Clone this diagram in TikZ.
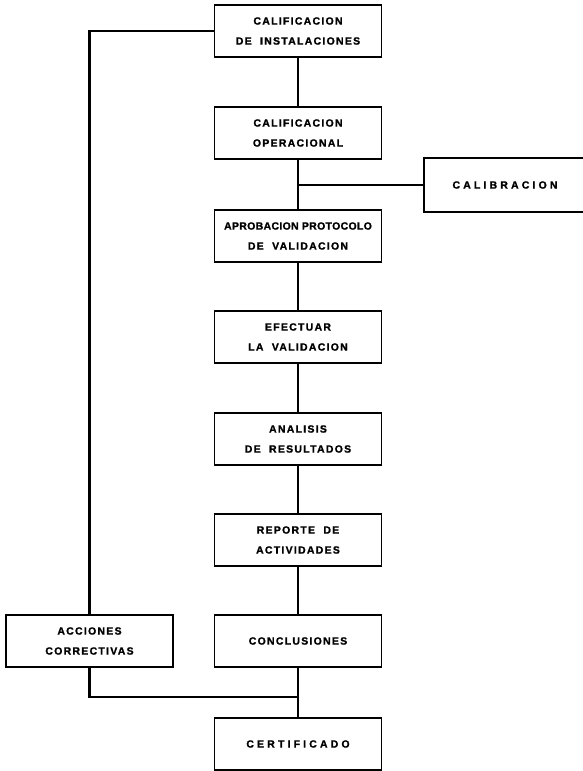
\documentclass[tikz,border=0pt]{standalone}
\usepackage{fontspec}
\usepackage{tikz}
\newfontfamily\boxfont[LetterSpace=12,FakeBold=1.2]{Liberation Sans Bold}
\newfontfamily\tightfont[LetterSpace=3,FakeBold=1.2]{Liberation Sans Bold}
\newfontfamily\widefont[LetterSpace=30,FakeBold=1.2]{Liberation Sans Bold}

\begin{document}
\begin{tikzpicture}[
    x=1pt, y=1pt,
    block/.style={draw, rectangle, line width=1.8pt, minimum height=52pt, minimum width=167pt, inner sep=0pt, align=center, font=\boxfont\fontsize{10.5}{20}\selectfont},
    link/.style={line width=2.6pt}
]
    \useasboundingbox (0,0) rectangle (582,-771);

    \node[block] (ci) at (298,-31) {CALIFICACION\\DE\ \ INSTALACIONES};
    \node[block] (co) at (298,-133) {CALIFICACION\\OPERACIONAL};
    \node[block] (ap) at (298,-236) {{\tightfont APROBACION PROTOCOLO}\\DE\ \ VALIDACION};
    \node[block] (ev) at (298,-337) {EFECTUAR\\LA\ \ VALIDACION};
    \node[block] (ar) at (298,-439) {ANALISIS\\DE\ \ RESULTADOS};
    \node[block] (ra) at (298,-540) {REPORTE\ \ DE\\ACTIVIDADES};
    \node[block] (cn) at (298,-641) {CONCLUSIONES};
    \node[block, font=\widefont\fontsize{10.5}{20}\selectfont] (ce) at (298,-744) {CERTIFICADO};
    \node[block] (ac) at (89.5,-641) {ACCIONES\\CORRECTIVAS};
    \node[block, minimum width=162pt, minimum height=54pt, font=\widefont\fontsize{10.5}{20}\selectfont] (cal) at (505,-185) {CALIBRACION};

    \draw[link] (ci) -- (co);
    \draw[link] (co) -- (ap);
    \draw[link] (ap) -- (ev);
    \draw[link] (ev) -- (ar);
    \draw[link] (ar) -- (ra);
    \draw[link] (ra) -- (cn);
    \draw[link] (cn) -- (ce);

    % Calibracion joins the main line
    \coordinate (jc) at (cal.west -| co.south);
    \draw[link] (cal.west) -- (jc);

    % Corrective loop
    \coordinate (jb) at (298,-697);
    \draw[link] (ci.west) -| (ac.north);
    \draw[link] (ac.south) |- (jb);

\end{tikzpicture}
\end{document}
